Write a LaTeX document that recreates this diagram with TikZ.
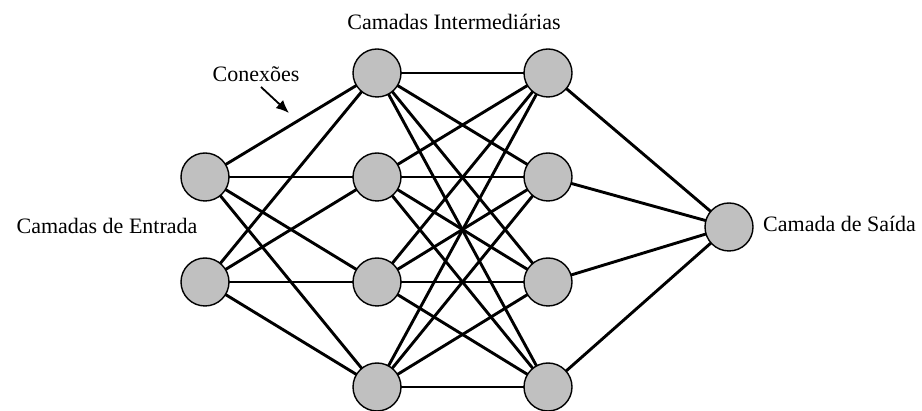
\documentclass[tikz,border=0pt]{standalone}
\usepackage{fontspec}
\setmainfont{Liberation Serif}
\usetikzlibrary{arrows.meta}
\begin{document}
\begin{tikzpicture}[x=1pt,y=-1pt,
  neuron/.style={circle,draw=black,line width=1.4pt,fill=neurongray,minimum size=48pt,inner sep=0pt},
  link/.style={line width=2.9pt,black},
  lbl/.style={font=\fontsize{22}{26}\selectfont,inner sep=0pt,anchor=base},
  pointer/.style={line width=1.8pt,-{Latex[length=13pt,width=11pt]}}]
\definecolor{neurongray}{HTML}{C0C0C0}
\useasboundingbox (0,0) rectangle (922,411);
% nodes (coordinates for layout)
\coordinate (i1) at (205,177);
\coordinate (i2) at (205,282);
\foreach \k/\y in {1/73,2/177,3/282,4/387}{
  \coordinate (a\k) at (377,\y);
  \coordinate (b\k) at (548,\y);
}
\coordinate (o) at (729,227);
% connectors
\foreach \i in {1,2}{\foreach \k in {1,...,4}{\draw[link] (i\i) -- (a\k);}}
\foreach \k in {1,...,4}{\foreach \m in {1,...,4}{\draw[link] (a\k) -- (b\m);}}
\foreach \m in {1,...,4}{\draw[link] (b\m) -- (o);}
% neurons
\node[neuron] (I1) at (i1) {};
\node[neuron] (I2) at (i2) {};
\foreach \k in {1,...,4}{
  \node[neuron] (A\k) at (a\k) {};
  \node[neuron] (B\k) at (b\k) {};
}
\node[neuron] (O) at (o) {};
% labels
\node[lbl] (lhid) at (454,30) {Camadas Intermediárias};
\node[lbl] (lin) at (107,234) {Camadas de Entrada};
\node[lbl,anchor=base west] (lout) at (763,232) {Camada de Saída};
\node[lbl] (lcon) at (256,82) {Conexões};
\coordinate (ctail) at (261,87);
\coordinate (chead) at (289,113);
\draw[pointer] (ctail) -- (chead);
\end{tikzpicture}
\end{document}
